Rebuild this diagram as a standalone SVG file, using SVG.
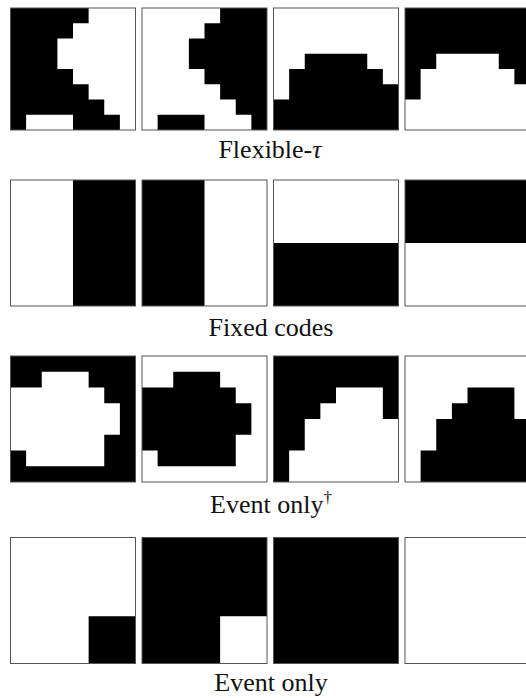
<svg xmlns="http://www.w3.org/2000/svg" xmlns:xlink="http://www.w3.org/1999/xlink" width="526" height="698" viewBox="0 0 526 698">
<style>
.bk{fill:#000}
.wh{fill:#fff}
.bd{fill:none;stroke:#555;stroke-width:1}
.lbl{font-family:"Liberation Serif","Times New Roman",serif;font-size:26px;fill:#111;text-anchor:middle}
</style>
<defs>
<path id="pA" d="M0,0H5V1H4V2H3V4H4V5H5V6H6V7H7V8H4V7H1V8H0Z"/>
<path id="pB" d="M2,3H6V4H7V5H8V8H0V6H1V4H2Z"/>
<path id="pC" d="M2,1H5V2H6V3H7V5H6V7H1V6H0V2H2Z"/>
<path id="pD" d="M4,2H7V4H8V8H1V6H2V4H3V3H4Z"/>
<rect id="full" x="0" y="0" width="8" height="8"/>
</defs>
<rect width="526" height="698" fill="#fff"/>

<!-- Row 1: Flexible-tau -->
<g id="r1p1" transform="translate(10.5,8)">
<g transform="scale(15.625,15.25)"><use xlink:href="#full" class="wh"/><use xlink:href="#pA" class="bk"/></g>
<rect class="bd" x="0" y="0" width="125" height="122"/>
</g>
<g id="r1p2" transform="translate(142,8)">
<g transform="scale(15.625,15.25)"><use xlink:href="#full" class="bk"/><use xlink:href="#pA" class="wh"/></g>
<rect class="bd" x="0" y="0" width="125" height="122"/>
</g>
<g id="r1p3" transform="translate(273.5,8)">
<g transform="scale(15.625,15.25)"><use xlink:href="#full" class="wh"/><use xlink:href="#pB" class="bk"/></g>
<rect class="bd" x="0" y="0" width="125" height="122"/>
</g>
<g id="r1p4" transform="translate(405,8)">
<g transform="scale(15.625,15.25)"><use xlink:href="#full" class="bk"/><use xlink:href="#pB" class="wh"/></g>
<rect class="bd" x="0" y="0" width="125" height="122"/>
</g>
<text id="lbl1" class="lbl" x="270" y="158">Flexible-<tspan font-style="italic">τ</tspan></text>

<!-- Row 2: Fixed codes -->
<g id="r2p1" transform="translate(10.5,180)">
<rect class="wh" x="0" y="0" width="125" height="126"/><rect class="bk" x="62.5" y="0" width="62.5" height="126"/>
<rect class="bd" x="0" y="0" width="125" height="126"/>
</g>
<g id="r2p2" transform="translate(142,180)">
<rect class="bk" x="0" y="0" width="125" height="126"/><rect class="wh" x="62.5" y="0" width="62.5" height="126"/>
<rect class="bd" x="0" y="0" width="125" height="126"/>
</g>
<g id="r2p3" transform="translate(273.5,180)">
<rect class="wh" x="0" y="0" width="125" height="126"/><rect class="bk" x="0" y="63" width="125" height="63"/>
<rect class="bd" x="0" y="0" width="125" height="126"/>
</g>
<g id="r2p4" transform="translate(405,180)">
<rect class="bk" x="0" y="0" width="125" height="126"/><rect class="wh" x="0" y="63" width="125" height="63"/>
<rect class="bd" x="0" y="0" width="125" height="126"/>
</g>
<text id="lbl2" class="lbl" x="271" y="336">Fixed codes</text>

<!-- Row 3: Event only dagger -->
<g id="r3p1" transform="translate(10.5,356)">
<g transform="scale(15.625,15.75)"><use xlink:href="#full" class="bk"/><use xlink:href="#pC" class="wh"/></g>
<rect class="bd" x="0" y="0" width="125" height="126"/>
</g>
<g id="r3p2" transform="translate(142,356)">
<g transform="scale(15.625,15.75)"><use xlink:href="#full" class="wh"/><use xlink:href="#pC" class="bk"/></g>
<rect class="bd" x="0" y="0" width="125" height="126"/>
</g>
<g id="r3p3" transform="translate(273.5,356)">
<g transform="scale(15.625,15.75)"><use xlink:href="#full" class="bk"/><use xlink:href="#pD" class="wh"/></g>
<rect class="bd" x="0" y="0" width="125" height="126"/>
</g>
<g id="r3p4" transform="translate(405,356)">
<g transform="scale(15.625,15.75)"><use xlink:href="#full" class="wh"/><use xlink:href="#pD" class="bk"/></g>
<rect class="bd" x="0" y="0" width="125" height="126"/>
</g>
<text id="lbl3" class="lbl" x="271" y="513">Event only<tspan font-size="17" dy="-10">†</tspan></text>

<!-- Row 4: Event only -->
<g id="r4p1" transform="translate(10.5,537.5)">
<rect class="wh" x="0" y="0" width="125" height="126"/><rect class="bk" x="78.125" y="78.75" width="46.875" height="47.25"/>
<rect class="bd" x="0" y="0" width="125" height="126"/>
</g>
<g id="r4p2" transform="translate(142,537.5)">
<rect class="bk" x="0" y="0" width="125" height="126"/><rect class="wh" x="78.125" y="78.75" width="46.875" height="47.25"/>
<rect class="bd" x="0" y="0" width="125" height="126"/>
</g>
<g id="r4p3" transform="translate(273.5,537.5)">
<rect class="bk" x="0" y="0" width="125" height="126"/>
<rect class="bd" x="0" y="0" width="125" height="126"/>
</g>
<g id="r4p4" transform="translate(405,537.5)">
<rect class="wh" x="0" y="0" width="125" height="126"/>
<rect class="bd" x="0" y="0" width="125" height="126"/>
</g>
<text id="lbl4" class="lbl" x="271" y="691">Event only</text>
</svg>
